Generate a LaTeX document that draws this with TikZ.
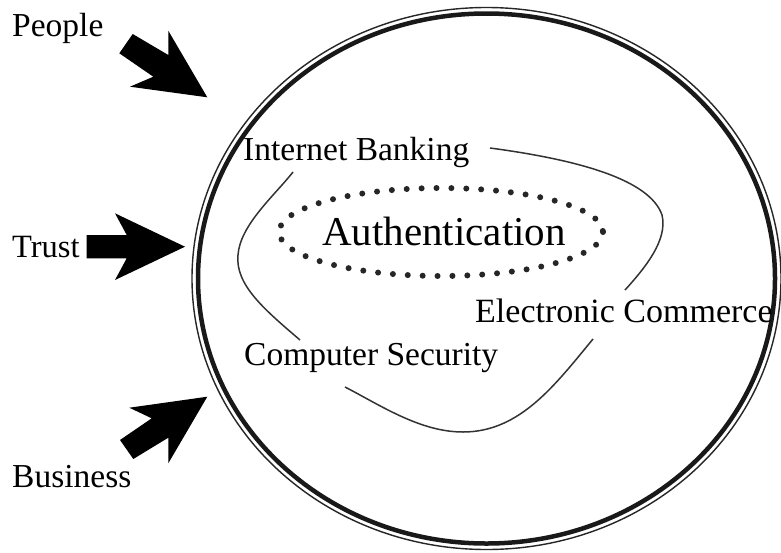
\documentclass[tikz,border=0pt]{standalone}
\usepackage{fontspec}
\setmainfont{Liberation Serif}
\begin{document}
\begin{tikzpicture}[x=1pt,y=-1pt,
  lbl/.style={anchor=base west,inner sep=0pt,font=\fontsize{33.5}{36}\selectfont},
  blockarrow/.style={fill=black,draw=none},
  loopline/.style={draw=black!80,line width=1.5pt},
  dotring/.style={draw=black!85,line width=6pt,line cap=round,dash pattern=on 0pt off 14.9pt}]
\useasboundingbox[fill=white] (0,0) rectangle (781,552);
% outer double ring
\draw[black!85,line width=1.4pt] (486.5,278.5) ellipse [x radius=294.5, y radius=271];
\draw[black!90,line width=4.5pt] (486.5,278.5) ellipse [x radius=288.5, y radius=265];
% outside labels
\node[lbl] (people) at (12,36) {People};
\node[lbl,font=\fontsize{32.5}{36}\selectfont] (trust) at (12,257) {Trust};
\node[lbl] (business) at (12,487) {Business};
% block arrows
\fill[blockarrow] (119.3,53.3) -- (132.7,34) -- (168.3,55) -- (168.3,30.7) -- (207.3,97.3) -- (130,86.7) -- (153.3,76.7) -- cycle;
\fill[blockarrow] (86.7,235) -- (126.7,235) -- (115,213.3) -- (185,246.7) -- (115,280) -- (126.7,258.3) -- (86.7,258.3) -- cycle;
\fill[blockarrow] (120,440) -- (151.7,418.3) -- (129.3,407.7) -- (207.3,396.7) -- (168.3,463.3) -- (168.3,437.7) -- (133.3,459) -- cycle;
% inner labels
\node[lbl] (banking) at (243,160) {Internet Banking};
\node[lbl,font=\fontsize{34}{37}\selectfont] (commerce) at (475,322) {Electronic Commerce};
\node[lbl] (security) at (244,365) {Computer Security};
\node[lbl,font=\fontsize{41}{44}\selectfont] (auth) at (322,245) {Authentication};
% dotted ellipse
\draw[dotring] (441,232) ellipse [x radius=162, y radius=44];
% loop segments
\draw[loopline] (490,148) .. controls (580,160) and (650,180) .. (662,215) .. controls (668,240) and (645,268) .. (625,290);
\draw[loopline] (593,339) .. controls (555,385) and (520,432) .. (463,432) .. controls (420,432) and (380,405) .. (345,387);
\draw[loopline] (300,340) .. controls (265,310) and (235,285) .. (238,255) .. controls (240,225) and (275,195) .. (293,172);
\end{tikzpicture}
\end{document}
